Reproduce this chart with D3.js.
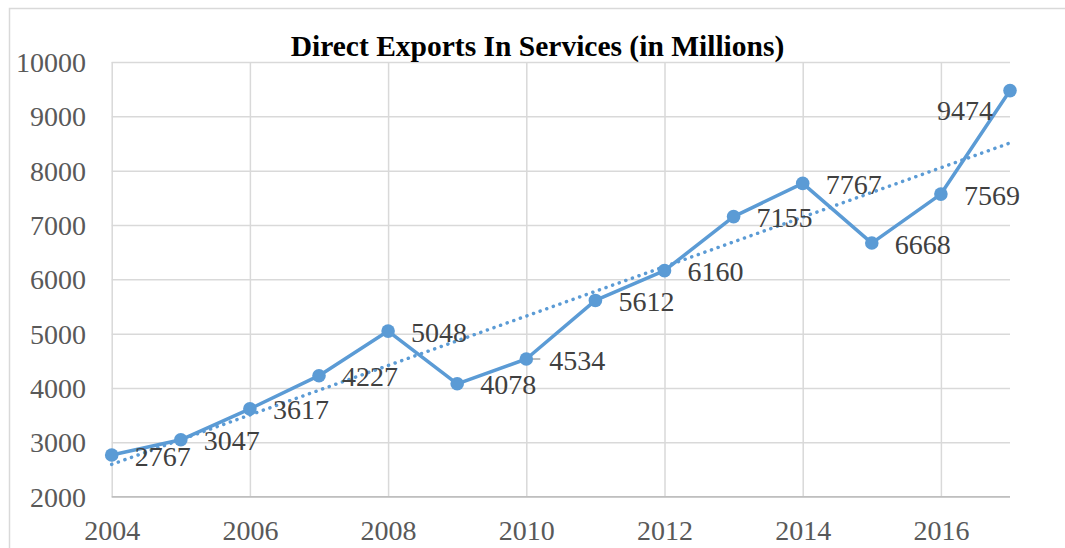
<!DOCTYPE html>
<html>
<head>
<meta charset="utf-8">
<script src="https://cdn.jsdelivr.net/npm/d3@7/dist/d3.min.js"></script>
<style>
  html, body { margin: 0; padding: 0; background: #fff; }
  svg { display: block; }
  text { font-family: "Liberation Serif", "Times New Roman", serif; }
</style>
</head>
<body>
<svg id="chart" width="1065" height="548"></svg>
<script>
// Direct exports in services, millions, by year
const years = [2004, 2005, 2006, 2007, 2008, 2009, 2010, 2011, 2012, 2013, 2014, 2015, 2016, 2017];
const exportsValues = [2767, 3047, 3617, 4227, 5048, 4078, 4534, 5612, 6160, 7155, 7767, 6668, 7569, 9474];
const yTicks = [2000, 3000, 4000, 5000, 6000, 7000, 8000, 9000, 10000];
const xTicks = [2004, 2006, 2008, 2010, 2012, 2014, 2016];
const chartTitle = "Direct Exports In Services (in Millions)";

const W = 1065, H = 548;
const margin = { left: 111.7, right: 55, top: 62, bottom: 51.3 };
const blue = "#5B9BD5";

const svg = d3.select("#chart");
svg.append("rect").attr("width", W).attr("height", H).attr("fill", "#fff");

// chart-area frame
svg.append("rect")
  .attr("x", 9.5).attr("y", 8.5)
  .attr("width", W + 20).attr("height", H + 20)
  .attr("fill", "none").attr("stroke", "#d9d9d9").attr("stroke-width", 1.5);

const x = d3.scaleLinear().domain([2004, 2017]).range([margin.left, W - margin.right]);
const y = d3.scaleLinear().domain([2000, 10000]).range([H - margin.bottom, margin.top]);

// horizontal gridlines
const yAxis = d3.axisLeft(y).tickValues(yTicks).tickSize(-(x(2017) - x(2004))).tickFormat(d => d);
const gy = svg.append("g").attr("transform", `translate(${x(2004)},0)`).call(yAxis);
gy.select(".domain").remove();
gy.selectAll(".tick line").attr("stroke", "#d9d9d9").attr("stroke-width", 1.5);
gy.selectAll(".tick text")
  .attr("x", -25.7).attr("dy", "0.34em")
  .attr("fill", "#595959").style("font-size", "28px")
  .style("font-family", "'Liberation Serif', 'Times New Roman', serif");

// vertical gridlines and year labels
const xAxis = d3.axisBottom(x).tickValues(xTicks).tickSize(-(y(2000) - y(10000))).tickFormat(d => d);
const gx = svg.append("g").attr("transform", `translate(0,${y(2000)})`).call(xAxis);
gx.select(".domain").remove();
gx.selectAll(".tick line").attr("stroke", "#d9d9d9").attr("stroke-width", 1.5);
gx.selectAll(".tick text")
  .attr("y", 34).attr("dy", "0.34em")
  .attr("fill", "#595959").style("font-size", "28px")
  .style("font-family", "'Liberation Serif', 'Times New Roman', serif");

// baseline
svg.append("line")
  .attr("x1", x(2004)).attr("x2", x(2017))
  .attr("y1", y(2000)).attr("y2", y(2000))
  .attr("stroke", "#bfbfbf").attr("stroke-width", 1.5);

// title
svg.append("text")
  .attr("x", 537.5).attr("y", 55.5)
  .attr("text-anchor", "middle")
  .attr("fill", "#000")
  .style("font-size", "29.5px").style("font-weight", "bold")
  .text(chartTitle);

const pts = years.map((yr, i) => ({ yr, v: exportsValues[i] }));

// least-squares linear trend
const n = pts.length;
const mx = d3.mean(pts, d => d.yr), my = d3.mean(pts, d => d.v);
const slope = d3.sum(pts, d => (d.yr - mx) * (d.v - my)) / d3.sum(pts, d => (d.yr - mx) ** 2);
const icpt = my - slope * mx;
const trend = [years[0], years[n - 1]].map(yr => ({ yr, v: icpt + slope * yr }));

svg.append("path")
  .datum(trend)
  .attr("d", d3.line().x(d => x(d.yr)).y(d => y(d.v)))
  .attr("fill", "none").attr("stroke", blue)
  .attr("stroke-width", 3.5).attr("stroke-linecap", "round")
  .attr("stroke-dasharray", "0.1 6.9");

// series line
svg.append("path")
  .datum(pts)
  .attr("d", d3.line().x(d => x(d.yr)).y(d => y(d.v)))
  .attr("fill", "none").attr("stroke", blue)
  .attr("stroke-width", 3.5).attr("stroke-linejoin", "round");

// leader for the 2010 label
svg.append("line")
  .attr("x1", x(2010) + 2).attr("x2", x(2010) + 14)
  .attr("y1", y(4534)).attr("y2", y(4534))
  .attr("stroke", "#a6a6a6").attr("stroke-width", 1.5);

// markers
svg.append("g").selectAll("circle").data(pts).join("circle")
  .attr("cx", d => x(d.yr)).attr("cy", d => y(d.v)).attr("r", 6.8)
  .attr("fill", blue);

// value labels: to the right, last point above-left
svg.append("g").selectAll("text").data(pts).join("text")
  .attr("x", (d, i) => i === n - 1 ? x(d.yr) - 17 : x(d.yr) + 23)
  .attr("y", (d, i) => i === n - 1 ? y(d.v) + 20 : y(d.v) + 1)
  .attr("dy", "0.34em")
  .attr("text-anchor", (d, i) => i === n - 1 ? "end" : "start")
  .attr("fill", "#404040")
  .style("font-size", "28px")
  .text(d => d.v);
</script>
</body>
</html>
